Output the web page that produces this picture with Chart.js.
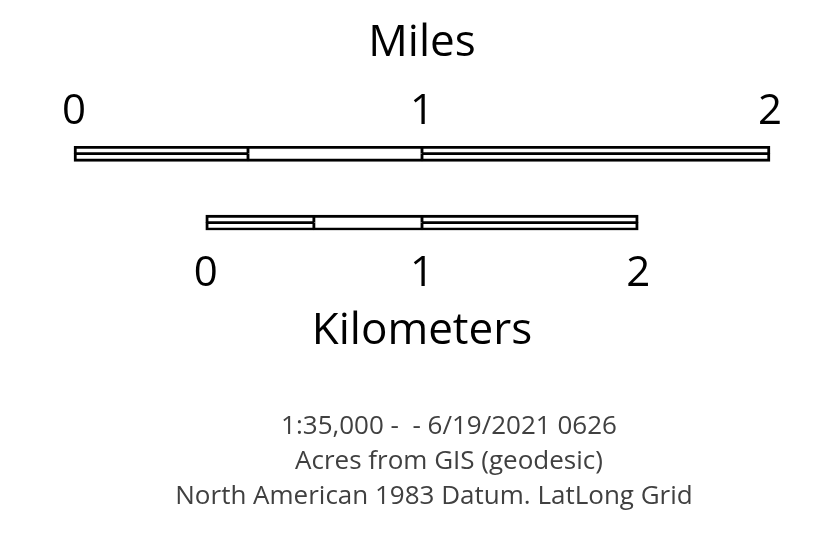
<!DOCTYPE html>
<html>
<head>
<meta charset="utf-8">
<script src="https://cdn.jsdelivr.net/npm/chart.js@4.4.1/dist/chart.umd.min.js"></script>
<style>
  html, body { margin: 0; padding: 0; background: #fff; }
  #wrap { width: 832px; height: 553px; }
</style>
</head>
<body>
<div id="wrap"><canvas id="myChart"></canvas></div>
<script>
const mileTicks = [0, 1, 2];
const kmTicks = [0, 1, 2];

// bar segments, each in its own unit
const mileStriped = [[0, 0.5], [1, 2]];
const mileSolid = [[0.5, 1]];
const kmStriped = [[0, 0.5], [1, 2]];
const kmSolid = [[0.5, 1]];

const footnote = [
  "1:35,000 -  - 6/19/2021 0626",
  "Acres from GIS (geodesic)",
  "North American 1983 Datum. LatLong Grid",
];

const FONT = "'Open Sans', 'Noto Sans', sans-serif";
const KM_IN_MILES = 0.621371;
// half the plot width, in miles, around the 1 mark
const HALF_MI = 410 / 348;
const HALF_KM = HALF_MI / KM_IN_MILES;

// category rows: 0-1 = miles bar, 9-10 = km bar
const rows = ["mi-a", "mi-b", "", "", "", "", "", "", "", "km-a", "km-b"];

const OUTER = 3;
const INNER = 1.75;

function segment(range, axisId, topRow, striped, ticks) {
  const data = rows.map(() => null);
  data[topRow] = range;
  data[topRow + 1] = range;
  const first = ticks[0];
  const last = ticks[ticks.length - 1];
  return {
    data,
    xAxisID: axisId,
    grouped: false,
    barPercentage: 1,
    categoryPercentage: 1,
    backgroundColor: "#fff",
    borderColor: "#000",
    borderSkipped: false,
    borderWidth: (c) => {
      const isTop = c.dataIndex === topRow;
      const left = range[0] === first ? OUTER : INNER;
      const right = range[1] === last ? OUTER : INNER;
      if (striped) {
        return { top: isTop ? OUTER : INNER, bottom: isTop ? INNER : OUTER, left, right };
      }
      return { top: isTop ? OUTER : 0, bottom: isTop ? 0 : OUTER, left, right };
    },
  };
}

const datasets = [
  ...mileStriped.map((r) => segment(r, "x", 0, true, mileTicks)),
  ...mileSolid.map((r) => segment(r, "x", 0, false, mileTicks)),
  ...kmStriped.map((r) => segment(r, "xKm", 9, true, kmTicks)),
  ...kmSolid.map((r) => segment(r, "xKm", 9, false, kmTicks)),
];

const footnotePlugin = {
  id: "footnote",
  afterDraw(chart) {
    const ctx = chart.ctx;
    const xs = [449, 449, 434];
    ctx.save();
    ctx.font = "26px " + FONT;
    ctx.fillStyle = "#404040";
    ctx.textAlign = "center";
    ctx.textBaseline = "middle";
    footnote.forEach((line, i) => ctx.fillText(line, xs[i], 427 + i * 35));
    ctx.restore();
  },
};

function axis(ticks, position, title, tickLength, titlePadding, min, max) {
  return {
    type: "linear",
    axis: "x",
    position,
    min,
    max,
    afterBuildTicks: (scale) => {
      scale.ticks = ticks.map((v) => ({ value: v }));
    },
    grid: { display: false, drawTicks: true, tickLength },
    border: { display: false },
    ticks: {
      color: "#000",
      padding: 0,
      maxRotation: 0,
      autoSkip: false,
      font: { family: FONT, size: 42, lineHeight: 1 },
    },
    title: {
      display: true,
      text: title,
      color: "#000",
      font: { family: FONT, size: 44, lineHeight: 1 },
      padding: titlePadding,
    },
  };
}

const config = {
  type: "bar",
  data: { labels: rows, datasets },
  options: {
    indexAxis: "y",
    responsive: true,
    maintainAspectRatio: false,
    animation: false,
    layout: { padding: { left: 12, right: 0, top: 0, bottom: 199.7 } },
    plugins: { legend: { display: false }, tooltip: { enabled: false } },
    scales: {
      x: axis(mileTicks, "top", "Miles", 12.5, { top: 21.5, bottom: 26 }, 1 - HALF_MI, 1 + HALF_MI),
      xKm: axis(kmTicks, "bottom", "Kilometers", 23, { top: 14, bottom: 0 }, 1 - HALF_KM, 1 + HALF_KM),
      y: { type: "category", display: false },
    },
  },
  plugins: [footnotePlugin],
};

const myChart = new Chart(document.getElementById("myChart"), config);
</script>
</body>
</html>
